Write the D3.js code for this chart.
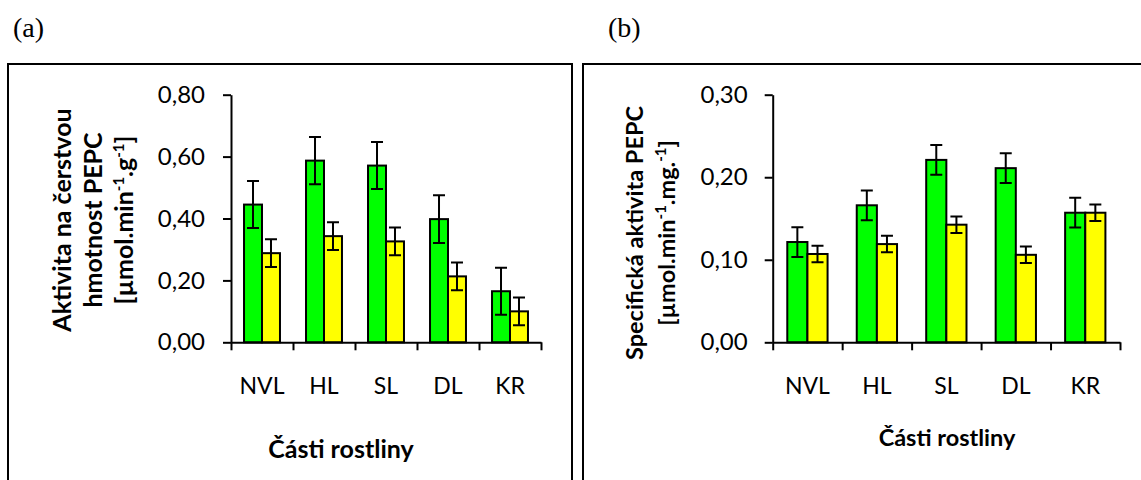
<!DOCTYPE html>
<html lang="cs">
<head>
<meta charset="utf-8">
<title>PEPC</title>
<script src="https://cdn.jsdelivr.net/npm/d3@7"></script>
<style>
body {margin: 0; background: #fff;}
svg {display: block;}
text {font-family: Lato, "Open Sans", sans-serif; fill: #000;}
.tag {font-family: "Liberation Serif", "Times New Roman", serif; font-size: 28px;}
.axis text {font-size: 24px;}
.axis.cat text {font-size: 23px;}
.axis path, .axis line {stroke: #000; stroke-width: 2;}
.ttl {font-weight: bold;}
.bar {stroke: #000; stroke-width: 2;}
.err {stroke: #000; stroke-width: 2; fill: none;}
</style>
</head>
<body>
<svg width="1141" height="480"></svg>
<script>
// data
var categories = ["NVL", "HL", "SL", "DL", "KR"];

// (a) aktivita na čerstvou hmotnost
var freshGreen    = [0.445, 0.587, 0.571, 0.398, 0.165];
var freshGreenErr = [0.076, 0.076, 0.076, 0.077, 0.076];
var freshYellow    = [0.288, 0.343, 0.326, 0.213, 0.100];
var freshYellowErr = [0.045, 0.045, 0.045, 0.045, 0.045];
var freshTicks = [0, 0.2, 0.4, 0.6, 0.8];

// (b) specifická aktivita
var specGreen    = [0.1215, 0.166, 0.221, 0.211, 0.157];
var specGreenErr = [0.018, 0.018, 0.018, 0.018, 0.018];
var specYellow    = [0.107, 0.119, 0.1425, 0.106, 0.157];
var specYellowErr = [0.010, 0.010, 0.010, 0.010, 0.010];
var specTicks = [0, 0.1, 0.2, 0.3];

var cz = d3.formatLocale({decimal: ",", thousands: " ", grouping: [3], currency: ["", " Kč"]});
var fmt = cz.format(".2f");

var svg = d3.select("svg");

function panel(o) {
	// frame
	svg.append("rect")
		.attr("x", o.frame[0]).attr("y", o.frame[1])
		.attr("width", o.frame[2]).attr("height", o.frame[3])
		.attr("fill", "none").attr("stroke", "#000").attr("stroke-width", 2);

	svg.append("text").attr("class", "tag")
		.attr("x", o.tag[0]).attr("y", o.tag[1]).text(o.tagText);

	var x = d3.scaleBand().domain(categories).range([o.x0, o.x1]);
	var xi = d3.scaleLinear().domain([0, categories.length]).range([o.x0, o.x1]);
	var y = d3.scaleLinear().domain([0, o.ticks[o.ticks.length - 1]]).range([o.y0, o.y1]);
	var bw = x.bandwidth() * 0.29;

	var g = svg.append("g");

	// bars
	var series = [
		{vals: o.green, err: o.greenErr, col: "#00ff00", off: -bw},
		{vals: o.yellow, err: o.yellowErr, col: "#ffff00", off: 0}
	];
	series.forEach(function(s) {
		g.selectAll(null)
			.data(categories)
			.enter()
			.append("rect")
				.attr("class", "bar")
				.attr("fill", s.col)
				.attr("x", function(d) { return x(d) + x.bandwidth() / 2 + s.off; })
				.attr("width", bw)
				.attr("y", function(d, i) { return y(s.vals[i]); })
				.attr("height", function(d, i) { return y(0) - y(s.vals[i]); });
	});

	// error bars
	series.forEach(function(s) {
		g.selectAll(null)
			.data(categories)
			.enter()
			.append("path")
				.attr("class", "err")
				.attr("d", function(d, i) {
					var cx = x(d) + x.bandwidth() / 2 + s.off + bw / 2;
					var t = y(s.vals[i] + s.err[i]), b = y(s.vals[i] - s.err[i]);
					return "M" + (cx - 6) + "," + t + "H" + (cx + 6) +
						"M" + cx + "," + t + "V" + b +
						"M" + (cx - 6) + "," + b + "H" + (cx + 6);
				});
	});

	// y axis
	svg.append("g").attr("class", "axis")
		.attr("transform", "translate(" + o.x0 + ",0)")
		.call(d3.axisLeft(y).tickValues(o.ticks).tickFormat(fmt)
			.tickSize(8).tickSizeOuter(0).tickPadding(o.pad));

	// x axis: line with ticks between categories
	svg.append("g").attr("class", "axis")
		.attr("transform", "translate(0," + o.y0 + ")")
		.call(d3.axisBottom(xi).tickValues(d3.range(categories.length + 1))
			.tickFormat("").tickSize(8).tickSizeOuter(0));

	var lab = svg.append("g").attr("class", "axis cat")
		.attr("transform", "translate(0," + o.y0 + ")")
		.call(d3.axisBottom(x).tickSize(0).tickPadding(35));
	lab.select(".domain").remove();

	// titles
	svg.append("text").attr("class", "ttl")
		.attr("text-anchor", "middle")
		.attr("font-size", o.fs + "px")
		.attr("x", o.xt[0]).attr("y", o.xt[1])
		.text("Části rostliny");

	var yt = svg.append("text").attr("class", "ttl")
		.attr("text-anchor", "middle")
		.attr("font-size", o.fs + "px")
		.attr("transform", "translate(" + o.yt[0] + "," + o.yt[1] + ") rotate(-90)");
	o.ylines.forEach(function(line, li) {
		var t = yt.append("tspan").attr("x", 0).attr("y", li * o.lh);
		line.forEach(function(p) {
			var s = t.append("tspan").text(p[0]);
			if (p[1]) s.attr("baseline-shift", "super").attr("font-size", "15px");
		});
	});
}

panel({
	frame: [8, 64, 564, 440], tag: [13, 37], tagText: "(a)",
	x0: 231, x1: 541, y0: 342.3, y1: 94.7, ticks: freshTicks, pad: 18,
	green: freshGreen, greenErr: freshGreenErr, yellow: freshYellow, yellowErr: freshYellowErr,
	fs: 25, xt: [341, 458], yt: [71, 220], lh: 31,
	ylines: [
		[["Aktivita na čerstvou"]],
		[["hmotnost PEPC"]],
		[["[µmol.min"], ["-1", 1], [".g"], ["-1", 1], ["]"]]
	]
});

panel({
	frame: [583, 64, 600, 440], tag: [608, 37], tagText: "(b)",
	x0: 772.7, x1: 1120, y0: 342.3, y1: 94.7, ticks: specTicks, pad: 17,
	green: specGreen, greenErr: specGreenErr, yellow: specYellow, yellowErr: specYellowErr,
	fs: 23.5, xt: [947, 446], yt: [643, 233], lh: 32,
	ylines: [
		[["Specifická aktivita PEPC"]],
		[["[µmol.min"], ["-1", 1], [".mg."], ["-1", 1], ["]"]]
	]
});
</script>
</body>
</html>
